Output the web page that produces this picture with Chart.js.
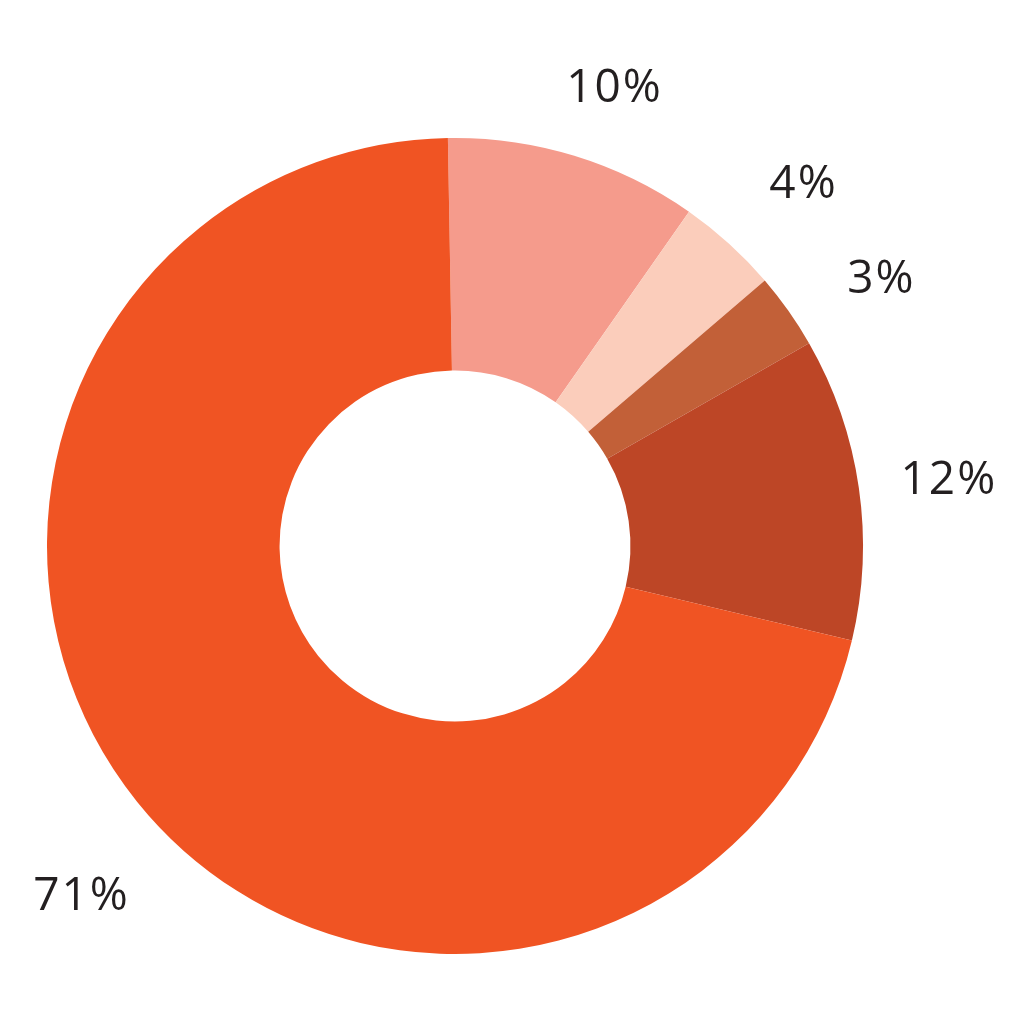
<!DOCTYPE html>
<html>
<head>
<meta charset="utf-8">
<script src="https://cdn.jsdelivr.net/npm/chart.js@4"></script>
<style>
  html, body { margin: 0; padding: 0; background: #fff; }
  #wrap { width: 1023px; height: 1022px; }
</style>
</head>
<body>
<div id="wrap"><canvas id="donut"></canvas></div>
<script>
const sliceLabels = ['10%', '4%', '3%', '12%', '71%'];
const sliceValues = [10, 4, 3, 12, 71];
const sliceColors = ['#F59B8C', '#FBCDBB', '#C26038', '#BD4626', '#F05423'];

// small hand nudges so each label sits where the original put it
const labelNudge = [[13, 22], [12, 10], [17, 23], [-2, 6], [17, 37]];

// draws the percentage text outside each slice, at its middle angle
const outsideLabels = {
    id: 'outsideLabels',
    afterDatasetsDraw(chart) {
        const ctx = chart.ctx;
        const meta = chart.getDatasetMeta(0);
        ctx.save();
        ctx.font = '46px "Open Sans", "Noto Sans", sans-serif';
        ctx.letterSpacing = '2px';
        ctx.fillStyle = '#231F20';
        ctx.textAlign = 'center';
        ctx.textBaseline = 'middle';
        meta.data.forEach((arc, i) => {
            const p = arc.getProps(['x', 'y', 'startAngle', 'endAngle', 'outerRadius']);
            const mid = (p.startAngle + p.endAngle) / 2;
            const r = p.outerRadius + 93;
            const x = p.x + Math.cos(mid) * r + labelNudge[i][0];
            const y = p.y + Math.sin(mid) * r + labelNudge[i][1];
            ctx.fillText(sliceLabels[i], x, y);
        });
        ctx.restore();
    }
};

new Chart(document.getElementById('donut').getContext('2d'), {
    type: 'doughnut',
    data: {
        labels: sliceLabels,
        datasets: [{
            data: sliceValues,
            backgroundColor: sliceColors,
            borderWidth: 0
        }]
    },
    options: {
        responsive: true,
        maintainAspectRatio: false,
        animation: false,
        rotation: -1,
        cutout: '43%',
        layout: { padding: { left: 47, right: 160, top: 137, bottom: 67 } },
        plugins: {
            legend: { display: false },
            tooltip: { enabled: false }
        }
    },
    plugins: [outsideLabels]
});
</script>
</body>
</html>
